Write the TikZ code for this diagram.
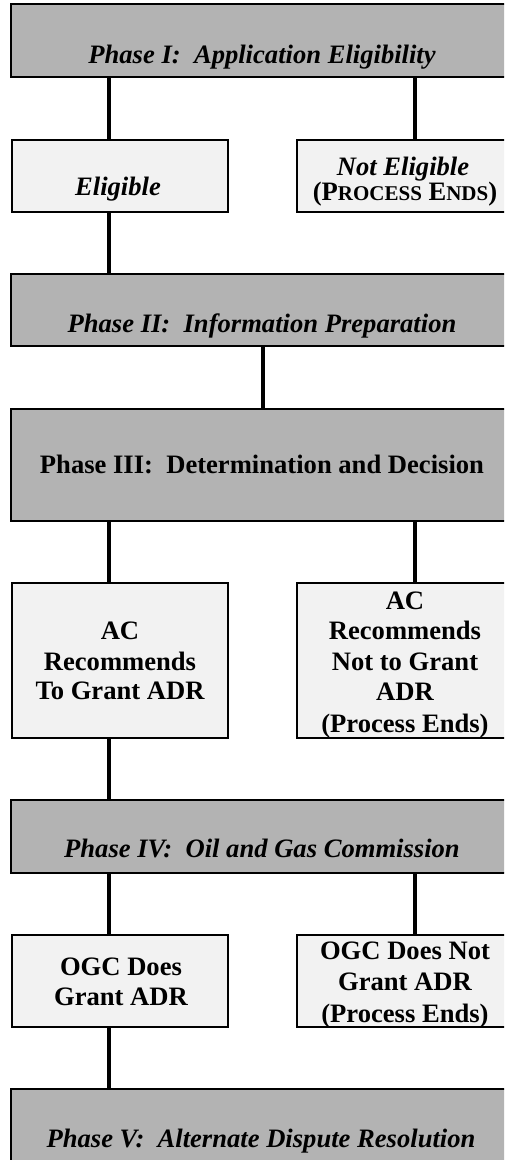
\documentclass[tikz,border=0pt]{standalone}
\usepackage{fontspec}
\setmainfont{Liberation Serif}
\definecolor{phasegray}{HTML}{B3B3B3}
\definecolor{boxgray}{HTML}{F2F2F2}
\tikzset{
  phasebox/.style={draw=black, line width=1.4pt, fill=phasegray, rectangle, anchor=north west, inner sep=0pt, outer sep=0pt},
  outcome/.style={draw=black, line width=1.4pt, fill=boxgray, rectangle, anchor=north west, inner sep=0pt, outer sep=0pt},
  conn/.style={line width=4pt, black},
  lbl/.style={anchor=base, inner sep=0pt, font=\fontsize{26.6}{30}\selectfont\bfseries},
  ilbl/.style={lbl, font=\fontsize{26.6}{30}\selectfont\bfseries\itshape}
}
\newcommand{\smc}[1]{{\fontsize{21}{24}\selectfont #1}}
\begin{document}
\begin{tikzpicture}[x=1pt,y=-1pt]
\useasboundingbox (0,0) rectangle (504,1160);
\fill[white] (0,0) rectangle (504,1160);
\clip (0,0) rectangle (504,1160);
% coordinates for connector columns
\coordinate (cL) at (109,0);
\coordinate (cM) at (263,0);
\coordinate (cR) at (415,0);
% boxes
\node[phasebox, minimum width=509pt, minimum height=73pt] (p1) at (11,4) {};
\node[outcome, minimum width=216pt, minimum height=72pt] (elig) at (12,140) {};
\node[outcome, minimum width=223pt, minimum height=72pt] (nelig) at (297,140) {};
\node[phasebox, minimum width=509pt, minimum height=72pt] (p2) at (11,274) {};
\node[phasebox, minimum width=509pt, minimum height=112pt] (p3) at (11,409) {};
\node[outcome, minimum width=216pt, minimum height=155pt] (acy) at (12,583) {};
\node[outcome, minimum width=223pt, minimum height=155pt] (acn) at (297,583) {};
\node[phasebox, minimum width=509pt, minimum height=73pt] (p4) at (11,800) {};
\node[outcome, minimum width=216pt, minimum height=92pt] (ogy) at (12,935) {};
\node[outcome, minimum width=223pt, minimum height=92pt] (ogn) at (297,935) {};
\node[phasebox, minimum width=509pt, minimum height=110pt] (p5) at (11,1089) {};
% connectors
\draw[conn] (p1.south -| cL) -- (elig.north -| cL);
\draw[conn] (p1.south -| cR) -- (nelig.north -| cR);
\draw[conn] (elig.south -| cL) -- (p2.north -| cL);
\draw[conn] (p2.south -| cM) -- (p3.north -| cM);
\draw[conn] (p3.south -| cL) -- (acy.north -| cL);
\draw[conn] (p3.south -| cR) -- (acn.north -| cR);
\draw[conn] (acy.south -| cL) -- (p4.north -| cL);
\draw[conn] (p4.south -| cL) -- (ogy.north -| cL);
\draw[conn] (p4.south -| cR) -- (ogn.north -| cR);
\draw[conn] (ogy.south -| cL) -- (p5.north -| cL);
% labels
\node[ilbl] (t1) at (262,63) {Phase I:\ \ Application Eligibility};
\node[ilbl] (t2) at (118,195) {Eligible};
\node[ilbl] (t3a) at (403,175) {Not Eligible};
\node[lbl] (t3b) at (405,200) {(P\smc{ROCESS} E\smc{NDS})};
\node[ilbl] (t4) at (262,332) {Phase II:\ \ Information Preparation};
\node[lbl] (t5) at (262,473) {Phase III:\ \ Determination and Decision};
\node[lbl] (t6a) at (120,639) {AC};
\node[lbl] (t6b) at (120,670) {Recommends};
\node[lbl] (t6c) at (120,699) {To Grant ADR};
\node[lbl] (t7a) at (405,609) {AC};
\node[lbl] (t7b) at (405,639) {Recommends};
\node[lbl] (t7c) at (405,670) {Not to Grant};
\node[lbl] (t7d) at (405,700) {ADR};
\node[lbl] (t7e) at (405,732) {(Process Ends)};
\node[ilbl] (t8) at (262,857) {Phase IV:\ \ Oil and Gas Commission};
\node[lbl] (t9a) at (121,975) {OGC Does};
\node[lbl] (t9b) at (121,1005) {Grant ADR};
\node[lbl] (t10a) at (405,959) {OGC Does Not};
\node[lbl] (t10b) at (405,990) {Grant ADR};
\node[lbl] (t10c) at (405,1022) {(Process Ends)};
\node[ilbl] (t11) at (261,1147) {Phase V:\ \ Alternate Dispute Resolution};
\end{tikzpicture}
\end{document}
